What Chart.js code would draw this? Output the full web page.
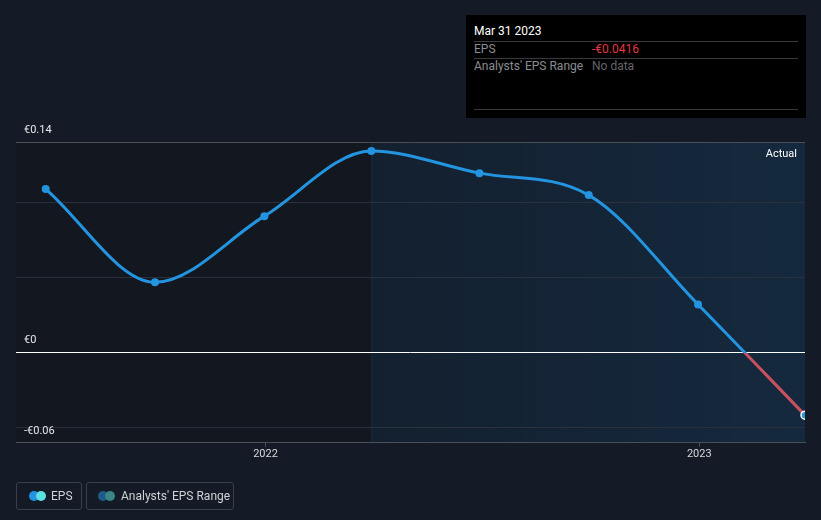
<!DOCTYPE html>
<html><head><meta charset="utf-8">
<script src="https://cdn.jsdelivr.net/npm/chart.js@4/dist/chart.umd.min.js"></script>
<style>
html,body{margin:0;padding:0;background:#151b26;width:821px;height:520px;overflow:hidden;font-family:Roboto,"Open Sans",sans-serif;}
#wrap{position:absolute;left:0;top:0;width:821px;height:520px;}
#tip{position:absolute;left:466px;top:15px;width:340px;height:103px;background:#000;}
#tip .t{position:absolute;left:8px;top:9px;color:#fff;font-size:12px;}
#tip .l{position:absolute;left:8px;right:8px;height:1px;background:#3a3a3a;}
#tip .k{position:absolute;left:8px;color:#8a8d93;font-size:12px;}
#tip .v{position:absolute;left:126px;font-size:12px;}
.act{position:absolute;right:24px;top:147px;color:#fff;font-size:11px;}
.leg{position:absolute;top:482px;height:28px;border:1px solid #3a3f4a;border-radius:3px;color:#cfd2d6;font-size:12px;box-sizing:border-box;}
.leg span.txt{position:absolute;top:6px;}
.dot{position:absolute;top:8px;width:10px;height:10px;border-radius:50%;}
</style></head><body>
<div id="wrap"><canvas id="c" width="821" height="520"></canvas></div>
<div class="act">Actual</div>
<div id="tip">
  <div class="t">Mar 31 2023</div>
  <div class="l" style="top:26px"></div>
  <div class="k" style="top:27px">EPS</div>
  <div class="v" style="top:27px;color:#e5343d">-€0.0416</div>
  <div class="l" style="top:43px"></div>
  <div class="k" style="top:44px">Analysts' EPS Range</div>
  <div class="v" style="top:44px;color:#62656b">No data</div>
  <div class="l" style="top:94px"></div>
</div>
<div class="leg" style="left:16px;width:66px">
  <div class="dot" style="left:12px;background:#2394df"></div>
  <div class="dot" style="left:19px;background:#5ce0e0"></div>
  <span class="txt" style="left:34px">EPS</span>
</div>
<div class="leg" style="left:86px;width:148px">
  <div class="dot" style="left:11px;background:#1f5a8a"></div>
  <div class="dot" style="left:18px;background:#3b8585"></div>
  <span class="txt" style="left:34px">Analysts' EPS Range</span>
</div>
<script>
const dates = ["2021-06-30","2021-09-30","2021-12-31","2022-03-31","2022-06-30","2022-09-30","2022-12-31","2023-03-31"];
const eps = [0.1087, 0.0467, 0.0907, 0.134, 0.1193, 0.1047, 0.032, -0.0416];
const yTicks = [-0.06, -0.05, 0, 0.05, 0.1, 0.14];
const yLabelled = [-0.06, 0, 0.14];
const xTickYears = ["2022-01-01","2023-01-01"];
const xMinDate = "2021-06-05";
const xMaxDate = "2023-03-31";
const splitDate = "2022-03-31";

const ts = s => Date.parse(s + "T00:00:00Z");
const pts = dates.map((d,i)=>({x:ts(d), y:eps[i]}));

const bgPlugin = {
  id:'bg',
  beforeDraw(chart){
    const {ctx, chartArea:a, scales:{x}} = chart;
    const sx = x.getPixelForValue(ts(splitDate));
    ctx.save();
    ctx.fillStyle = '#13171f';
    ctx.fillRect(a.left, a.top, sx - a.left, a.bottom - a.top);
    const g = ctx.createLinearGradient(sx,0,a.right,0);
    g.addColorStop(0,'rgba(19,32,47,1)');
    g.addColorStop(1,'rgba(21,41,62,1)');
    ctx.fillStyle = g;
    ctx.fillRect(sx, a.top, a.right - sx, a.bottom - a.top);
    ctx.strokeStyle = 'rgba(30,45,60,0.9)';
    ctx.lineWidth = 1;
    ctx.beginPath(); ctx.moveTo(sx+0.5,a.top); ctx.lineTo(sx+0.5,a.bottom); ctx.stroke();
    ctx.restore();
  }
};

function lineGrad(ctx){
  const chart = ctx.chart; const a = chart.chartArea;
  if(!a) return '#2394df';
  const y0 = chart.scales.y.getPixelForValue(0);
  const g = chart.ctx.createLinearGradient(0,a.top,0,a.bottom);
  const f = Math.min(Math.max((y0-a.top)/(a.bottom-a.top),0),1);
  g.addColorStop(0,'#2394df'); g.addColorStop(f,'#2394df');
  g.addColorStop(f,'#c9505e'); g.addColorStop(1,'#c9505e');
  return g;
}

new Chart(document.getElementById('c'),{
  type:'line',
  data:{datasets:[{
    data:pts,
    borderColor:lineGrad,
    borderWidth:3,
    cubicInterpolationMode:'monotone',
    pointRadius:4,
    pointBackgroundColor:'#2394df',
    pointBorderColor:pts.map((p,i)=>i===pts.length-1?'#ffffff':'#2394df'),
    pointBorderWidth:pts.map((p,i)=>i===pts.length-1?1.5:0),
    clip:{left:0,right:0,top:5,bottom:5}
  }]},
  options:{
    responsive:false, animation:false,
    layout:{padding:{left:16,right:16,top:142,bottom:58}},
    plugins:{legend:{display:false},tooltip:{enabled:false}},
    scales:{
      x:{type:'linear', min:ts(xMinDate), max:ts(xMaxDate),
        afterBuildTicks(s){ s.ticks = xTickYears.map(d=>({value:ts(d)})); },
        ticks:{callback:v=>new Date(v).getUTCFullYear().toString(), color:'#d5d7da', font:{family:'Roboto',size:11}, padding:1, maxRotation:0, autoSkip:false},
        grid:{drawOnChartArea:false, drawTicks:true, tickLength:4, color:'#4a4f58'},
        border:{display:true,color:'#4a4f58',width:1}
      },
      y:{min:-0.06, max:0.14,
        afterBuildTicks(s){ s.ticks = yTicks.map(v=>({value:v})); },
        afterFit(s){ s.width = 0; },
        ticks:{mirror:true, padding:8, labelOffset:-12, color:'#e6e7e9', font:{family:'Roboto',size:11},
          callback:v=>{ const r=Math.round(v*100)/100; if(!yLabelled.includes(r)) return ''; return r===0?'€0':(r<0?'-€'+Math.abs(r).toFixed(2):'€'+r.toFixed(2)); }},
        grid:{drawTicks:false, lineWidth:1,
          color:c=>{ const v=Math.round(c.tick.value*100)/100; if(v===0) return '#ffffff'; if(v===0.14||v===-0.06) return '#4a4f58'; return '#2a313c'; }},
        border:{display:false}
      }
    }
  },
  plugins:[bgPlugin]
});
</script>
</body></html>
